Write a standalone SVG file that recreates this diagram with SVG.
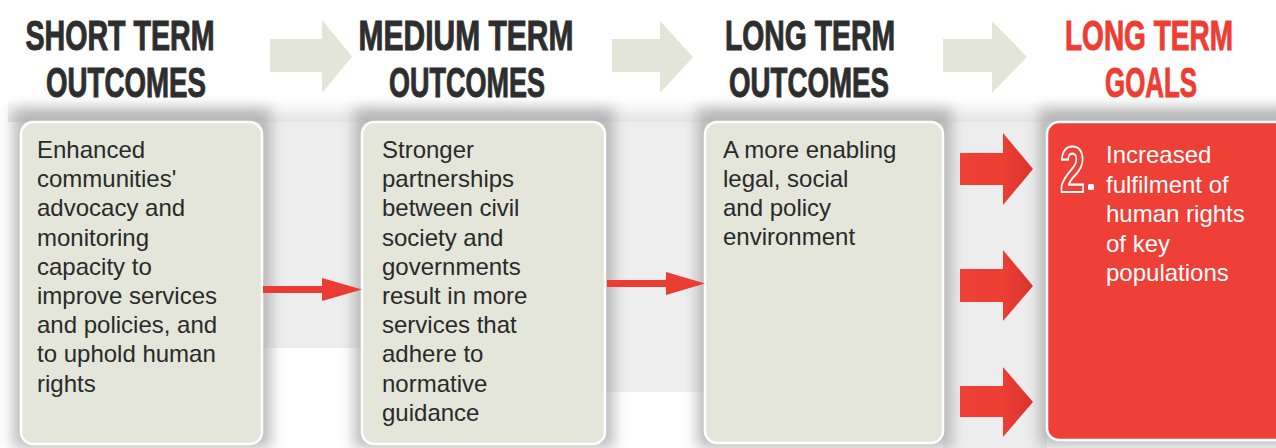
<svg xmlns="http://www.w3.org/2000/svg" width="1276" height="448" viewBox="0 0 1276 448">
<defs>
<style>
.title{font-family:"Liberation Sans",Arial,sans-serif;font-weight:bold;font-size:42px;text-anchor:middle;fill:#2e2e2e;stroke:#2e2e2e;stroke-width:1}
.red{fill:#ee3e33;stroke:#ee3e33}
.box{fill:#e3e6d9;stroke:#ffffff;stroke-width:2.5}
.goal{fill:#ef4037;stroke:#ffffff;stroke-width:2.5}
.txt{font-family:"Liberation Sans",Arial,sans-serif;font-size:24px;fill:#2a2a2a}
.wtxt{font-family:"Liberation Sans",Arial,sans-serif;font-size:24px;fill:#ffffff}
.hdr{fill:#e2e5d8}
.conn{fill:#ea3c32}
.big{fill:url(#redg)}
.shadow{fill:#a6a6a6;opacity:0.75;filter:url(#blur)}
</style>
<filter id="blur" x="-20%" y="-20%" width="140%" height="140%"><feGaussianBlur stdDeviation="7"/></filter>
<linearGradient id="band" x1="0" y1="0" x2="0" y2="1">
<stop offset="0" stop-color="#ffffff"/>
<stop offset="1" stop-color="#d2d2d2"/>
</linearGradient>
<linearGradient id="redg" x1="0" y1="0" x2="1" y2="0">
<stop offset="0" stop-color="#ef4037"/>
<stop offset="0.55" stop-color="#ee3f35"/>
<stop offset="1" stop-color="#d9342c"/>
</linearGradient>
</defs>
<rect width="1276" height="448" fill="#ffffff"/>
<g id="background">
<rect x="8" y="100" width="1268" height="22" fill="url(#band)" opacity="0.6"/>
<rect x="262" y="122" width="100" height="226" fill="#ededed"/>
<rect x="605" y="122" width="100" height="270" fill="#eeeeee"/>
<rect x="943" y="122" width="104" height="326" fill="#ededed"/>
<rect class="shadow" x="13" y="108" width="258" height="340"/>
<rect class="shadow" x="354" y="108" width="260" height="340"/>
<rect class="shadow" x="697" y="108" width="255" height="340"/>
<rect class="shadow" x="1039" y="108" width="260" height="338"/>
</g>
<g id="headers">
<g id="h-short">
<text class="title" transform="translate(120,50) scale(0.681,1)">SHORT TERM</text>
<text class="title" transform="translate(126,97) scale(0.659,1)">OUTCOMES</text>
</g>
<g id="h-medium">
<text class="title" transform="translate(466,50) scale(0.714,1)">MEDIUM TERM</text>
<text class="title" transform="translate(467,97) scale(0.643,1)">OUTCOMES</text>
</g>
<g id="h-long">
<text class="title" transform="translate(810,50) scale(0.675,1)">LONG TERM</text>
<text class="title" transform="translate(809,97) scale(0.659,1)">OUTCOMES</text>
</g>
<g id="h-goals">
<text class="title red" transform="translate(1149,50) scale(0.667,1)">LONG TERM</text>
<text class="title red" transform="translate(1151,97) scale(0.616,1)">GOALS</text>
</g>
<g id="header-arrows">
<polygon class="hdr" points="270,39 322,39 322,20 352,56.5 322,93 322,72 270,72"/>
<polygon class="hdr" points="612,39 660,39 660,21 693,57 660,93 660,72 612,72"/>
<polygon class="hdr" points="943,39 992,39 992,21 1027,57 992,93 992,72 943,72"/>
</g>
</g>
<g id="node-short">
<rect class="box" x="21" y="122" width="241" height="322" rx="12"/>
<text class="txt">
<tspan x="37" y="158">Enhanced</tspan>
<tspan x="37" y="187">communities'</tspan>
<tspan x="37" y="216">advocacy and</tspan>
<tspan x="37" y="246">monitoring</tspan>
<tspan x="37" y="275">capacity to</tspan>
<tspan x="37" y="304">improve services</tspan>
<tspan x="37" y="333">and policies, and</tspan>
<tspan x="37" y="362">to uphold human</tspan>
<tspan x="37" y="392">rights</tspan>
</text>
</g>
<g id="node-medium">
<rect class="box" x="362" y="122" width="243" height="322" rx="12"/>
<text class="txt">
<tspan x="382" y="158">Stronger</tspan>
<tspan x="382" y="187">partnerships</tspan>
<tspan x="382" y="216">between civil</tspan>
<tspan x="382" y="246">society and</tspan>
<tspan x="382" y="275">governments</tspan>
<tspan x="382" y="304">result in more</tspan>
<tspan x="382" y="333">services that</tspan>
<tspan x="382" y="362">adhere to</tspan>
<tspan x="382" y="392">normative</tspan>
<tspan x="382" y="421">guidance</tspan>
</text>
</g>
<g id="node-long">
<rect class="box" x="705" y="122" width="238" height="321" rx="12"/>
<text class="txt">
<tspan x="723" y="158">A more enabling</tspan>
<tspan x="723" y="187">legal, social</tspan>
<tspan x="723" y="216">and policy</tspan>
<tspan x="723" y="245">environment</tspan>
</text>
</g>
<g id="node-goal">
<rect class="goal" x="1047" y="122" width="250" height="318" rx="12"/>
<text transform="translate(1060,192) scale(0.7,1)" font-family="Liberation Sans,Arial,sans-serif" font-weight="bold" font-size="64" fill="#ef4037" stroke="#ffffff" stroke-width="2.2">2</text>
<rect x="1088" y="184" width="6" height="6" rx="1.5" fill="#ffffff"/>
<text class="wtxt">
<tspan x="1106" y="163">Increased</tspan>
<tspan x="1106" y="193">fulfilment of</tspan>
<tspan x="1106" y="222">human rights</tspan>
<tspan x="1106" y="252">of key</tspan>
<tspan x="1106" y="281">populations</tspan>
</text>
</g>
<g id="connectors">
<polygon class="conn" points="263,286 322,286 322,278 362,289.5 322,301 322,293 263,293"/>
<polygon class="conn" points="607,280 666,280 666,272 705,283.5 666,295 666,287 607,287"/>
<polygon class="big" points="960,153 1003,153 1003,133 1033,169 1003,205 1003,185 960,185"/>
<polygon class="big" points="960,269 1003,269 1003,250 1033,286 1003,321 1003,302 960,302"/>
<polygon class="big" points="960,386 1003,386 1003,367 1033,402 1003,437 1003,417 960,417"/>
</g>
</svg>
